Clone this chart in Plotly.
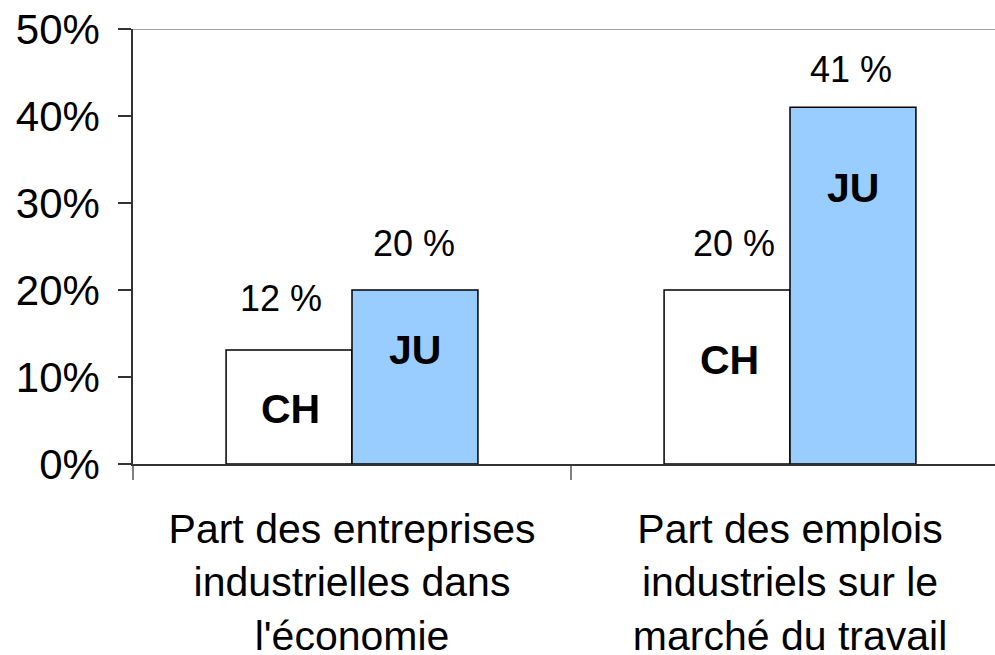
import plotly.graph_objects as go

categories = ["Part des entreprises<br>industrielles dans<br>l'économie",
              "Part des emplois<br>industriels sur le<br>marché du travail"]
series_names = ["CH", "JU"]
ch_values = [13.1, 20.0]
ju_values = [20.0, 41.0]
ch_value_labels = ["12 %", "20 %"]
ju_value_labels = ["20 %", "41 %"]
y_ticks = [0, 10, 20, 30, 40, 50]
y_tick_labels = ["0%", "10%", "20%", "30%", "40%", "50%"]

FONT = "Liberation Sans, Arial, sans-serif"

fig = go.Figure()
fig.add_trace(go.Bar(x=categories, y=ch_values, name=series_names[0],
                     marker=dict(color="#FFFFFF", line=dict(color="#000000", width=1.5))))
fig.add_trace(go.Bar(x=categories, y=ju_values, name=series_names[1],
                     marker=dict(color="#99CCFF", line=dict(color="#000000", width=1.5))))

# label placement (px shifts / y in data units) - style only
val_label_y = {"CH": [18.97, 25.4], "JU": [25.4, 45.3]}
val_label_dx = {"CH": [-8, 7], "JU": [-1, -2]}
in_label_y = {"CH": [6.3, 11.95], "JU": [13.1, 31.7]}
in_label_dx = {"CH": [2, 3], "JU": [0, 0]}
offsets = {"CH": -0.144, "JU": 0.144}

for s, labels in (("CH", ch_value_labels), ("JU", ju_value_labels)):
    for i, lab in enumerate(labels):
        fig.add_annotation(x=i + offsets[s], y=val_label_y[s][i], text=lab, showarrow=False,
                           xshift=val_label_dx[s][i], yanchor="middle",
                           font=dict(family=FONT, size=36, color="#000000"))
        fig.add_annotation(x=i + offsets[s], y=in_label_y[s][i], text="<b>%s</b>" % s,
                           showarrow=False, xshift=in_label_dx[s][i], yanchor="middle",
                           font=dict(family=FONT, size=41, color="#000000"))

fig.add_shape(type="line", xref="paper", yref="y", x0=0, x1=1, y0=50, y1=50,
              line=dict(color="#808080", width=1.5))

fig.update_layout(
    width=995, height=655,
    margin=dict(l=133, r=0, t=29, b=191),
    paper_bgcolor="#FFFFFF", plot_bgcolor="#FFFFFF",
    barmode="group", bargap=0.425, bargroupgap=0,
    showlegend=False,
    font=dict(family=FONT, color="#000000"),
)
fig.update_xaxes(
    type="category", range=[-0.5, 1.468], tickson="boundaries",
    ticks="outside", ticklen=14, tickcolor="#808080", tickwidth=1.5,
    showline=True, linecolor="#333333", linewidth=1.5,
    showgrid=False, zeroline=False, ticklabelstandoff=28, automargin=False,
    tickfont=dict(family=FONT, size=41, color="#000000"),
)
fig.update_yaxes(
    range=[0, 50], tickvals=y_ticks, ticktext=y_tick_labels,
    ticks="outside", ticklen=13, tickcolor="#333333", tickwidth=1.5,
    showline=True, linecolor="#333333", linewidth=1.5,
    showgrid=False, zeroline=False, ticklabelstandoff=10, automargin=False,
    tickfont=dict(family=FONT, size=42, color="#000000"),
)

fig.write_html("out.html")
